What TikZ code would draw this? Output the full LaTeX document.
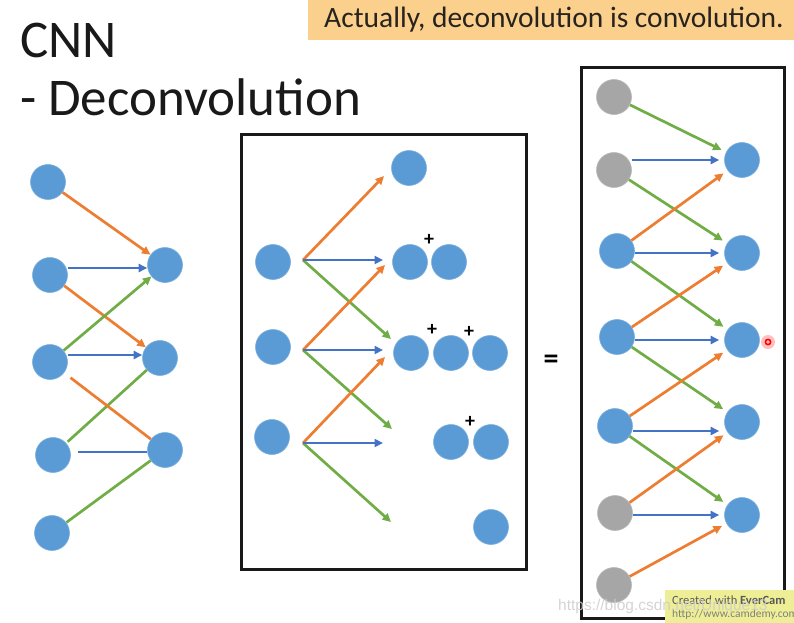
\documentclass[tikz,border=0pt]{standalone}
\usepackage{fontspec}
\setmainfont{Carlito}
\newfontfamily\wmfont{Liberation Sans}
\usetikzlibrary{arrows.meta}
\definecolor{cblue}{RGB}{91,155,213}
\definecolor{cgray}{RGB}{166,166,166}
\definecolor{corange}{RGB}{237,125,49}
\definecolor{cgreen}{RGB}{112,173,71}
\definecolor{cablue}{RGB}{68,114,196}
\definecolor{cbox}{RGB}{250,208,140}
\definecolor{ctext}{RGB}{40,35,30}
\definecolor{cyell}{RGB}{238,238,150}
\begin{document}
\begin{tikzpicture}[x=1pt,y=-1pt,
  dot/.style={circle,fill=cblue,draw=cblue!80!white,line width=0.6pt,minimum size=35pt,inner sep=0pt},
  gdot/.style={dot,fill=cgray,draw=cgray!80!white},
  con/.style={line width=2.7pt},
  tip/.style={-{Triangle[length=8.5pt,width=8pt]}},
  oa/.style={con,draw=corange,tip},
  ga/.style={con,draw=cgreen,tip},
  ba/.style={con,draw=cablue,tip},
  ol/.style={con,draw=corange},
  gl/.style={con,draw=cgreen},
  bl/.style={con,draw=cablue},
  frame/.style={draw=black!90,line width=3pt},
  plus/.style={font=\fontsize{20}{20}\selectfont\bfseries,inner sep=0pt,text=black},
  title/.style={font=\fontsize{53}{60}\selectfont,text=black!90,anchor=base west,inner sep=0pt}
]
\useasboundingbox (0,0) rectangle (794,622);

% title
\node[title] (t1) at (20,57) {CNN};
\node[title] (t2) at (20,115) {- Deconvolution};

% banner
\fill[cbox] (308,0) rectangle (794,40);
\node[font=\fontsize{29.5}{30}\selectfont,text=ctext,anchor=base west,inner sep=0pt] (ban) at (324,27) {Actually, deconvolution is convolution.};

% ---------- left panel ----------
\node[dot] (L1) at (48,182) {};
\node[dot] (L2) at (50,275) {};
\node[dot] (L3) at (50,362) {};
\node[dot] (L4) at (53,455) {};
\node[dot] (L5) at (52,533) {};
\node[dot] (R1) at (165,265) {};
\node[dot] (R2) at (160,358) {};
\node[dot] (R3) at (165,450) {};

\draw[oa] (L1) -- (R1);
\draw[ba] (L2.east |- 0,268) -- (R1.west |- 0,268);
\draw[oa] (L2) -- (R2);
\draw[ga] (L3) -- (R1);
\draw[ba] (L3.east |- 0,355) -- (R2.west |- 0,355);
\draw[gl,shorten <=2pt] (L4) -- (R2);
\draw[ol,shorten <=8pt] (L3) -- (R3);
\draw[bl,shorten <=7pt] (L4.east |- 0,452) -- (R3.west |- 0,452);
\draw[gl] (L5) -- (R3);

% ---------- middle panel ----------
\draw[frame] (241,134) rectangle (526,569);
\node[dot] (I1) at (273,262) {};
\node[dot] (I2) at (273,347) {};
\node[dot] (I3) at (272,437) {};
\node[dot] (O1) at (409,168) {};
\node[dot] (O2a) at (410,262) {};
\node[dot] (O2b) at (449,262) {};
\node[dot] (O3a) at (411,353) {};
\node[dot] (O3b) at (451,353) {};
\node[dot] (O3c) at (490,353) {};
\node[dot] (O4a) at (451,442) {};
\node[dot] (O4b) at (491,442) {};
\node[dot] (O5) at (491,527) {};
\node[plus] (p1) at (429,240) {+};
\node[plus] (p2) at (432,330) {+};
\node[plus] (p3) at (469,332) {+};
\node[plus] (p4) at (470,422) {+};

\coordinate (s1) at (303,260);
\coordinate (s2) at (303,350);
\coordinate (s3) at (303,443);
\coordinate (e1o) at (384,176);
\coordinate (e1b) at (383,260);
\coordinate (e1g) at (391,339);
\coordinate (e2o) at (385,265);
\coordinate (e2b) at (383,350);
\coordinate (e2g) at (392,429);
\coordinate (e3o) at (385,357);
\coordinate (e3b) at (383,443);
\coordinate (e3g) at (391,522);
\draw[ga] (s1) -- (e1g);
\draw[oa] (s1) -- (e1o);
\draw[ba] (s1) -- (e1b);
\draw[ga] (s2) -- (e2g);
\draw[oa] (s2) -- (e2o);
\draw[ba] (s2) -- (e2b);
\draw[ga] (s3) -- (e3g);
\draw[oa] (s3) -- (e3o);
\draw[ba] (s3) -- (e3b);

% equals
\node[font=\fontsize{30}{30}\selectfont\bfseries,inner sep=0pt] (eq) at (551,362) {=};

% ---------- right panel ----------
\draw[frame] (581,67) rectangle (784,618);
\node[gdot] (G1) at (614,97) {};
\node[gdot] (G2) at (614,170) {};
\node[dot] (B3) at (617,251) {};
\node[dot] (B4) at (617,337) {};
\node[dot] (B5) at (615,426) {};
\node[gdot] (G6) at (615,513) {};
\node[gdot] (G7) at (614,585) {};
\node[dot] (Q1) at (742,160) {};
\node[dot] (Q2) at (742,253) {};
\node[dot] (Q3) at (742,340) {};
\node[dot] (Q4) at (742,422) {};
\node[dot] (Q5) at (742,515) {};

\begin{scope}[shorten >=5pt]
\draw[ga] (G1) -- (Q1);
\draw[ga] (G2) -- (Q2);
\draw[ga] (B3) -- (Q3);
\draw[ga] (B4) -- (Q4);
\draw[ga] (B5) -- (Q5);
\draw[oa] (B3) -- (Q1);
\draw[oa] (B4) -- (Q2);
\draw[oa] (B5) -- (Q3);
\draw[oa] (G6) -- (Q4);
\draw[oa] (G7) -- (Q5);
\draw[ba] (G2.east |- Q1) -- (Q1);
\draw[ba] (B3.east |- Q2) -- (Q2);
\draw[ba] (B4.east |- Q3) -- (Q3);
\draw[ba] (B5.east |- 0,431) -- (Q4.west |- 0,431);
\draw[ba] (G6.east |- Q5) -- (Q5);
\end{scope}

% cursor mark
\fill[red!25] (768,342) circle (7pt);
\draw[red,line width=1.6pt] (768,342) circle (2.6pt);

% watermarks
\begin{scope}
\clip (0,0) rectangle (794,622);
\fill[cyell] (665,590) rectangle (800,625);
\node[font=\fontsize{12.5}{13}\selectfont,text=black!65,anchor=base west,inner sep=0pt] (wm1) at (672,604) {Created with \textbf{EverCam}};
\node[font=\fontsize{11.5}{12}\selectfont,text=black!50,anchor=base west,inner sep=0pt] (wm2) at (672,617) {http://www.camdemy.com};
\node[font=\fontsize{15.5}{16}\selectfont\wmfont,text=gray!40,opacity=0.85,anchor=base west,inner sep=0pt] (wm3) at (558,610) {https://blog.csdn.net/Unique13};
\end{scope}
\end{tikzpicture}
\end{document}
